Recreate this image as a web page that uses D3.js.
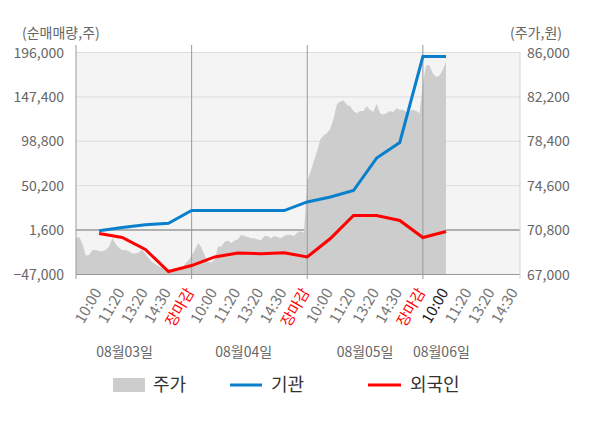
<!DOCTYPE html>
<html>
<head>
<meta charset="utf-8">
<script src="https://cdn.jsdelivr.net/npm/d3@7"></script>
<style>
  body { margin: 0; background: #fff; }
  text { font-family: "Noto Sans CJK KR", "Noto Sans", sans-serif; }
</style>
</head>
<body>
<svg width="600" height="428"></svg>
<script>
const svg = d3.select('svg');

// x tick labels (one per category point)
const timeLabels = ['10:00', '11:20', '13:20', '14:30', '장마감',
  '10:00', '11:20', '13:20', '14:30', '장마감',
  '10:00', '11:20', '13:20', '14:30', '장마감',
  '10:00', '11:20', '13:20', '14:30'];
const dates = ['08월03일', '08월04일', '08월05일', '08월06일'];

// cumulative net buying, shares
const institution = [1000, 4500, 7500, 9000, 23000, 23000, 23000, 23000, 23000,
  32400, 37800, 44900, 80500, 97500, 191600, 191600];
const foreigners = [-2100, -6500, -19600, -43700, -37200, -27800, -23500, -24300,
  -23300, -27800, -7600, 17600, 17600, 12100, -6500, 0];

// share price, sampled through each trading day
const priceDay1 = [70100, 70200, 69600, 68600, 68700, 69100, 69100, 69000, 69000, 69100,
  69400, 70100, 69600, 69300, 69100, 69100, 69000, 68800, 68800, 68900,
  69100, 68800, 68400, 68100, 67900, 67700, 67600, 67400, 67400, 67400,
  67300, 67300, 67500, 67900, 68200];
const priceDay2 = [68600, 69100, 69700, 69300, 68600, 68100, 68000, 68300, 69400, 69400,
  69800, 69900, 69700, 69900, 70000, 70400, 70300, 70200, 70100, 70100,
  70000, 69900, 70300, 70300, 70100, 70300, 70200, 70100, 70300, 70400,
  70400, 70300, 70600, 70700, 70600];
const priceDay3 = [75000, 75800, 76700, 77600, 78600, 78900, 79100, 79500, 80400, 81600,
  81800, 81900, 81500, 81400, 81000, 80800, 81000, 81000, 81400, 81100,
  80900, 81600, 80800, 80700, 80800, 81000, 80900, 81200, 81100, 81100,
  80900, 81000, 81100, 81000, 80800];
const priceDay4 = [83400, 84900, 84900, 84200, 83900, 84000, 84500, 85200];

const leftTicks = [-47000, 1600, 50200, 98800, 147400, 196000];
const rightTicks = [67000, 70800, 74600, 78400, 82200, 86000];

const plotLeft = 76, plotRight = 520, plotTop = 52.5, plotBottom = 274.5;
const samplesPerDay = 35;

const x = d3.scaleLinear().domain([-1, 18.2]).range([plotLeft, plotRight]);
const yLeft = d3.scaleLinear().domain([-47000, 196000]).range([plotBottom, plotTop]);
const yRight = d3.scaleLinear().domain([67000, 86000]).range([plotBottom, plotTop]);

svg.append('defs').append('clipPath').attr('id', 'plot')
  .append('rect').attr('x', plotLeft).attr('y', plotTop)
  .attr('width', plotRight - plotLeft).attr('height', plotBottom - plotTop);

svg.append('rect')
  .attr('x', plotLeft).attr('y', plotTop)
  .attr('width', plotRight - plotLeft).attr('height', plotBottom - plotTop)
  .attr('fill', '#f4f4f4');

// horizontal grid
svg.selectAll('line.grid')
  .data(leftTicks.slice(1))
  .enter().append('line')
    .attr('class', 'grid')
    .attr('x1', plotLeft).attr('x2', plotRight)
    .attr('y1', d => yLeft(d)).attr('y2', d => yLeft(d))
    .attr('stroke', d => d === 1600 ? '#9a9a9a' : '#dcdcdc')
    .attr('stroke-width', d => d === 1600 ? 1.5 : 1);

// price area
const priceDays = [priceDay1, priceDay2, priceDay3, priceDay4];
const pricePoints = priceDays.flatMap((day, d) =>
  day.map((p, j) => ({ t: 5 * d - 1 + 5 * j / samplesPerDay, p })));

svg.append('path')
  .datum(pricePoints)
  .attr('clip-path', 'url(#plot)')
  .attr('fill', '#cdcdcd')
  .attr('d', d3.area()
    .x(d => x(d.t))
    .y0(plotBottom)
    .y1(d => yRight(d.p)));

// axes and day separators
const separators = [-1, 4, 9, 14];
svg.selectAll('line.sep')
  .data(separators)
  .enter().append('line')
    .attr('class', 'sep')
    .attr('x1', d => x(d)).attr('x2', d => x(d))
    .attr('y1', 45).attr('y2', 279)
    .attr('stroke', '#999');

svg.append('line')
  .attr('x1', plotLeft).attr('x2', plotRight)
  .attr('y1', plotBottom).attr('y2', plotBottom)
  .attr('stroke', '#999');
svg.append('line')
  .attr('x1', plotRight).attr('x2', plotRight)
  .attr('y1', plotTop).attr('y2', 279)
  .attr('stroke', '#d4d4d4');

// net buying lines
const line = d3.line().x((d, i) => x(i)).y(d => yLeft(d));

svg.append('path')
  .datum(institution)
  .attr('fill', 'none')
  .attr('stroke', '#0a80cc')
  .attr('stroke-width', 3)
  .attr('d', line);

svg.append('path')
  .datum(foreigners)
  .attr('fill', 'none')
  .attr('stroke', '#ff0000')
  .attr('stroke-width', 3)
  .attr('d', line);

// y labels
svg.selectAll('text.yl')
  .data(leftTicks)
  .enter().append('text')
    .attr('class', 'yl')
    .attr('x', 64).attr('y', d => yLeft(d) + 5)
    .attr('text-anchor', 'end')
    .attr('font-size', 14)
    .attr('fill', '#666')
    .text(d3.format(','));

svg.selectAll('text.yr')
  .data(rightTicks)
  .enter().append('text')
    .attr('class', 'yr')
    .attr('x', 527).attr('y', d => yRight(d) + 5)
    .attr('font-size', 14)
    .attr('fill', '#666')
    .text(d3.format(','));

svg.append('text')
  .attr('x', 22).attr('y', 38)
  .attr('font-size', 14).attr('fill', '#666')
  .text('(순매매량,주)');
svg.append('text')
  .attr('x', 562).attr('y', 38)
  .attr('text-anchor', 'end')
  .attr('font-size', 14).attr('fill', '#666')
  .text('(주가,원)');

// x labels
svg.selectAll('text.xl')
  .data(timeLabels)
  .enter().append('text')
    .attr('class', 'xl')
    .attr('transform', (d, i) => `translate(${x(i) + 3},${292}) rotate(-60)`)
    .attr('text-anchor', 'end')
    .attr('font-size', 15)
    .attr('fill', (d, i) => d === '장마감' ? '#ff0000' : (i === 15 ? '#222' : '#777'))
    .text(d => d);

const datePos = [1.1, 6.25, 11.5, 14.8];
svg.selectAll('text.date')
  .data(dates)
  .enter().append('text')
    .attr('class', 'date')
    .attr('x', (d, i) => x(datePos[i]))
    .attr('y', 357)
    .attr('text-anchor', 'middle')
    .attr('font-size', 14)
    .attr('fill', '#666')
    .text(d => d);

// legend
const legend = svg.append('g');
legend.append('rect')
  .attr('x', 113).attr('y', 378).attr('width', 32).attr('height', 14)
  .attr('fill', '#cdcdcd');
legend.append('text').attr('x', 153).attr('y', 391)
  .attr('font-size', 18).attr('fill', '#333').text('주가');
legend.append('line')
  .attr('x1', 230).attr('x2', 262).attr('y1', 385).attr('y2', 385)
  .attr('stroke', '#0a80cc').attr('stroke-width', 3);
legend.append('text').attr('x', 271).attr('y', 391)
  .attr('font-size', 18).attr('fill', '#333').text('기관');
legend.append('line')
  .attr('x1', 368).attr('x2', 401).attr('y1', 385).attr('y2', 385)
  .attr('stroke', '#ff0000').attr('stroke-width', 3);
legend.append('text').attr('x', 410).attr('y', 391)
  .attr('font-size', 18).attr('fill', '#333').text('외국인');
</script>
</body>
</html>
